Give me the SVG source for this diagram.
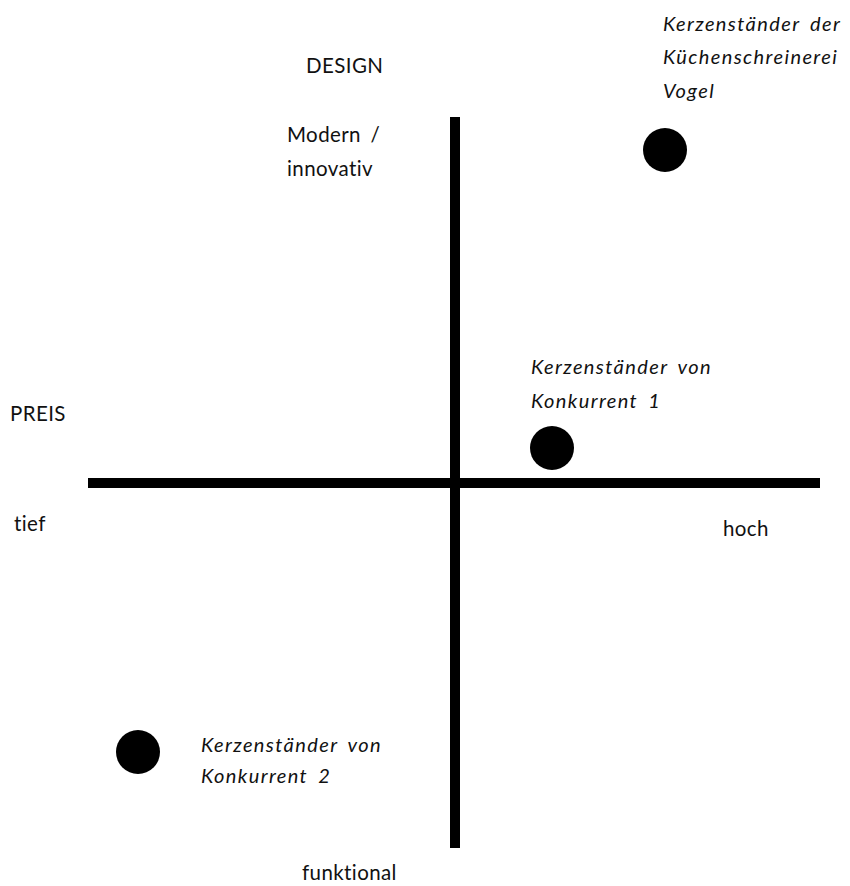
<svg xmlns="http://www.w3.org/2000/svg" width="850" height="886" viewBox="0 0 850 886">
<style>
text{font-family:Lato,"Open Sans","Liberation Sans",sans-serif;font-size:20.5px;fill:#111;letter-spacing:0.4px}
.i{font-style:italic;font-size:20px;letter-spacing:1.4px;word-spacing:4px}
.dot{fill:#000}
.ax{stroke:#000;stroke-width:10}
</style>
<rect width="850" height="886" fill="#fff"/>
<g id="axes">
<line class="ax" x1="88" y1="483" x2="820" y2="483"/>
<line class="ax" x1="455" y1="117" x2="455" y2="848"/>
</g>
<g id="labels">
<text x="306" y="73">DESIGN</text>
<text x="287" y="142" word-spacing="4">Modern /</text>
<text x="287" y="176">innovativ</text>
<text x="10" y="421">PREIS</text>
<text x="14" y="531">tief</text>
<text x="723" y="536">hoch</text>
<text x="302" y="880">funktional</text>
</g>
<g id="vogel">
<circle class="dot" cx="665" cy="150" r="22"/>
<text class="i" x="663" y="31">Kerzenständer der</text>
<text class="i" x="663" y="64">Küchenschreinerei</text>
<text class="i" x="663" y="98">Vogel</text>
</g>
<g id="konkurrent1">
<ellipse class="dot" cx="552" cy="448" rx="22" ry="22"/>
<text class="i" x="531" y="374">Kerzenständer von</text>
<text class="i" x="531" y="408">Konkurrent 1</text>
</g>
<g id="konkurrent2">
<circle class="dot" cx="138" cy="752" r="22"/>
<text class="i" x="201" y="752">Kerzenständer von</text>
<text class="i" x="201" y="783">Konkurrent 2</text>
</g>
</svg>
